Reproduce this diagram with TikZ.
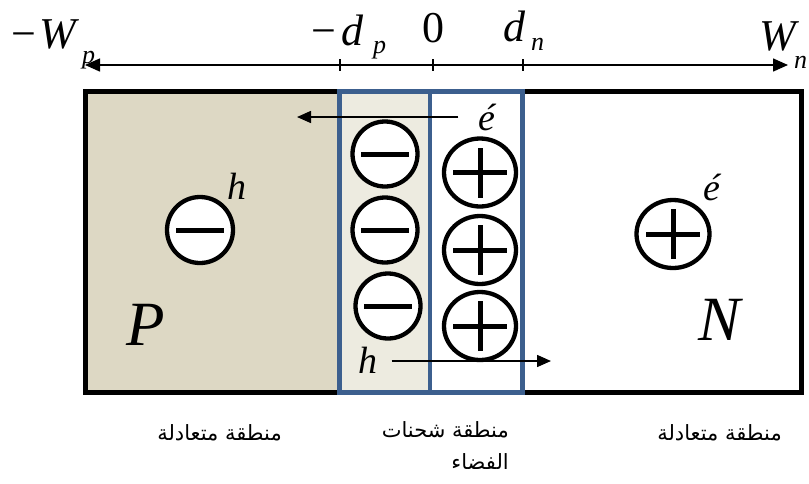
\documentclass[tikz,border=0pt]{standalone}
\usepackage{fontspec}
\setmainfont{Liberation Serif}
\newfontfamily\arabicfont[Script=Arabic]{DejaVu Sans}
\TeXXeTstate=1
\usetikzlibrary{arrows.meta,shapes.geometric}

\definecolor{ptan}{HTML}{DDD8C4}
\definecolor{depl}{HTML}{EDEBE0}
\definecolor{jblue}{HTML}{3C5F8E}

\tikzset{
  ion/.style={ellipse, draw=black, line width=4.3pt, fill=white, inner sep=0pt},
  negion/.style={ion, minimum width=65pt, minimum height=65pt,
    path picture={\draw[line width=5pt]
      ([xshift=-24pt]path picture bounding box.center) --
      ([xshift=24pt]path picture bounding box.center);}},
  posion/.style={ion, minimum width=72pt, minimum height=68pt,
    path picture={\draw[line width=5pt]
      ([xshift=-27pt]path picture bounding box.center) --
      ([xshift=27pt]path picture bounding box.center)
      ([yshift=-25pt]path picture bounding box.center) --
      ([yshift=25pt]path picture bounding box.center);}},
  axislabel/.style={inner sep=0pt, font=\fontsize{44}{44}\selectfont},
  sublabel/.style={inner sep=0pt, font=\fontsize{26}{26}\selectfont\itshape},
  carrier/.style={inner sep=0pt, font=\fontsize{38}{38}\selectfont\itshape},
  typelabel/.style={inner sep=0pt, font=\fontsize{63}{63}\selectfont\itshape},
  zonelabel/.style={inner sep=0pt, align=right, font=\arabicfont\fontsize{21}{32}\selectfont},
  flow/.style={line width=1.5pt, -{Triangle[length=14pt,width=12pt]}},
  tickmark/.style={line width=1.2pt},
}

\begin{document}
\begin{tikzpicture}[x=1pt,y=-1pt]
\useasboundingbox (0,0) rectangle (809,483);

% semiconductor regions
\fill[ptan] (85.5,91.5) rectangle (339.5,392.5);
\fill[depl] (339.5,91.5) rectangle (430,392.5);
\draw[line width=5pt] (85.5,91.5) rectangle (801.5,392.5);
\draw[jblue, line width=4.5pt] (339.5,91.5) rectangle (522.5,392.5);
\draw[jblue, line width=4.5pt] (430,91.5) -- (430,392.5);

% position axis
\coordinate (axL) at (85,65);
\coordinate (axR) at (788,65);
\draw[line width=1.5pt, {Triangle[length=15pt,width=13pt]}-{Triangle[length=15pt,width=13pt]}] (axL) -- (axR);
\coordinate (tdp) at (340,65);
\coordinate (t0) at (433,65);
\coordinate (tdn) at (523,65);
\foreach \t in {tdp,t0,tdn}
  \draw[tickmark] ([yshift=6pt]\t) -- ([yshift=-6pt]\t);

\node[axislabel, anchor=base west] (wp) at (11,48) {−\kern3pt\textit{W}};
\node[sublabel, anchor=base west] (wpsub) at (82,63) {p};
\node[axislabel, anchor=base west] (dp) at (311,45) {−\kern5pt\textit{d}};
\node[sublabel, anchor=base west] (dpsub) at (373,53) {p};
\node[axislabel, anchor=base] (zero) at (433,42) {0};
\node[axislabel, anchor=base west] (dn) at (503,41) {\textit{d}};
\node[sublabel, anchor=base west] (dnsub) at (531,50) {n};
\node[axislabel, anchor=base west] (wn) at (759,50) {\textit{W}};
\node[sublabel, anchor=base west] (wnsub) at (794,68) {n};

% space charge ions
\node[negion] (m1) at (385,154) {};
\node[negion] (m2) at (385,230) {};
\node[negion] (m3) at (388,306) {};
\node[posion] (p1) at (480,172.5) {};
\node[posion] (p2) at (480,250) {};
\node[posion] (p3) at (480,326) {};

% neutral regions
\node[negion, minimum width=66pt, minimum height=66pt] (mP) at (200,230) {};
\node[carrier, anchor=base] (hP) at (237,199) {h};
\node[posion, minimum width=73pt, minimum height=68pt] (pN) at (673,234) {};
\node[carrier, anchor=base] (eN) at (712,200) {é};
\node[typelabel, anchor=base] (P) at (146,345) {P};
\node[typelabel, anchor=base] (N) at (720,340) {N};

% carrier drift
\node[carrier, anchor=base] (eD) at (487,130) {é};
\coordinate (eEnd) at (297,117);
\draw[flow] (eD.west |- eEnd) ++(-20pt,0) -- (eEnd);
\node[carrier, anchor=base] (hD) at (368,373) {h};
\coordinate (hEnd) at (551,361);
\draw[flow] (hD.east |- hEnd) ++(14pt,0) -- (hEnd);

% region names
\node[zonelabel, anchor=east] (zl) at (282,433) {\beginR منطقة متعادلة\endR};
\node[zonelabel, anchor=north east] (zm) at (509,421) {\beginR منطقة شحنات\endR\\\beginR الفضاء\endR};
\node[zonelabel, anchor=east] (zr) at (782,433) {\beginR منطقة متعادلة\endR};
\end{tikzpicture}
\end{document}
